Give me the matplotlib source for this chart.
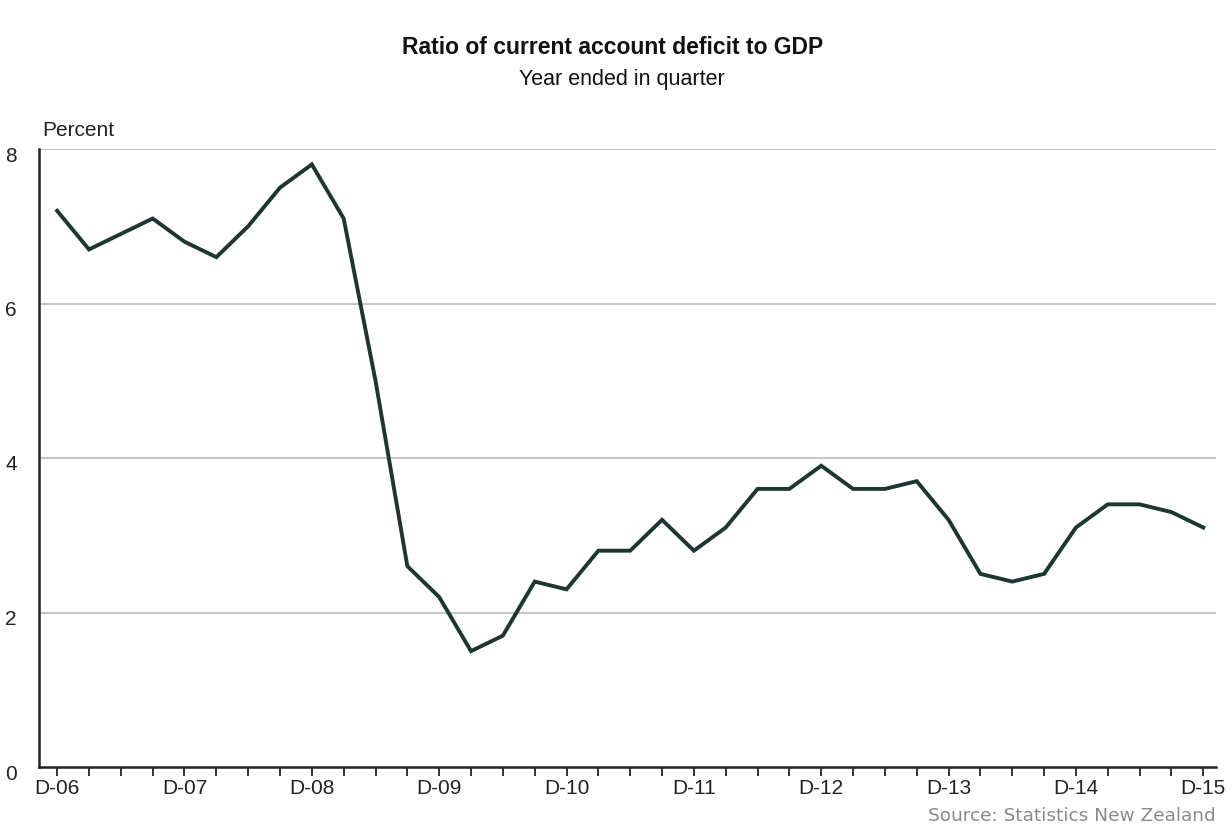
import matplotlib

matplotlib.use("Agg")
import matplotlib.pyplot as plt
from matplotlib.transforms import ScaledTranslation

# Quarterly, year ended in quarter, Dec 2006 .. Dec 2015
quarters = ["D-06", "M-07", "J-07", "S-07", "D-07", "M-08", "J-08", "S-08",
            "D-08", "M-09", "J-09", "S-09", "D-09", "M-10", "J-10", "S-10",
            "D-10", "M-11", "J-11", "S-11", "D-11", "M-12", "J-12", "S-12",
            "D-12", "M-13", "J-13", "S-13", "D-13", "M-14", "J-14", "S-14",
            "D-14", "M-15", "J-15", "S-15", "D-15"]
deficit_pct = [7.2, 6.7, 6.9, 7.1, 6.8, 6.6, 7.0, 7.5, 7.8, 7.1,
               5.0, 2.6, 2.2, 1.5, 1.7, 2.4, 2.3, 2.8, 2.8, 3.2,
               2.8, 3.1, 3.6, 3.6, 3.9, 3.6, 3.6, 3.7, 3.2, 2.5,
               2.4, 2.5, 3.1, 3.4, 3.4, 3.3, 3.1]
y_ticks = [0, 2, 4, 6, 8]

plt.rcParams["font.family"] = ["Liberation Sans", "DejaVu Sans"]

W, H = 1231, 827
fig = plt.figure(figsize=(W / 100, H / 100), dpi=100)
ax = fig.add_axes([39 / W, (H - 767) / H, (1216 - 39) / W, (767 - 149) / H])

x = list(range(len(quarters)))
ax.plot(x, deficit_pct, color="#1d3632", lw=2.8, solid_joinstyle="miter", zorder=3)

ax.set_xlim(-0.57, len(quarters) - 1 + 0.4)
ax.set_ylim(0, 8)

for v in y_ticks[1:]:
    ax.axhline(v, color="#c6c6c6", lw=1.5, zorder=1)

ax.set_yticks(y_ticks)
ax.set_yticklabels([str(v) for v in y_ticks])
ax.tick_params(axis="y", length=0, pad=16, labelsize=15, colors="#222222")
# labels in the original sit a few pixels below their gridline
shift = ScaledTranslation(0, -5 / 100, fig.dpi_scale_trans)
for lbl in ax.get_yticklabels():
    lbl.set_transform(lbl.get_transform() + shift)

ax.set_xticks(x)
ax.set_xticklabels([q if q.startswith("D") else "" for q in quarters])
ax.tick_params(axis="x", direction="out", length=6.5, width=1.3, pad=2,
               labelsize=15, colors="#222222")

for s in ("top", "right"):
    ax.spines[s].set_visible(False)
for s in ("left", "bottom"):
    ax.spines[s].set_color("#222222")
    ax.spines[s].set_linewidth(1.8)

fig.text(613 / W, 1 - 48 / H, "Ratio of current account deficit to GDP",
         ha="center", va="center", fontsize=16.5, fontweight="bold", color="#111111")
fig.text(622 / W, 1 - 80 / H, "Year ended in quarter",
         ha="center", va="center", fontsize=15.5, color="#111111")
fig.text(42 / W, 1 - 130 / H, "Percent", ha="left", va="center",
         fontsize=15, color="#222222")
fig.text(1216 / W, 1 - 816 / H, "Source: Statistics New Zealand", ha="right",
         va="center", fontsize=13.3, color="#8a8a8a", family="DejaVu Sans")

fig.savefig("out.png", dpi=100)
